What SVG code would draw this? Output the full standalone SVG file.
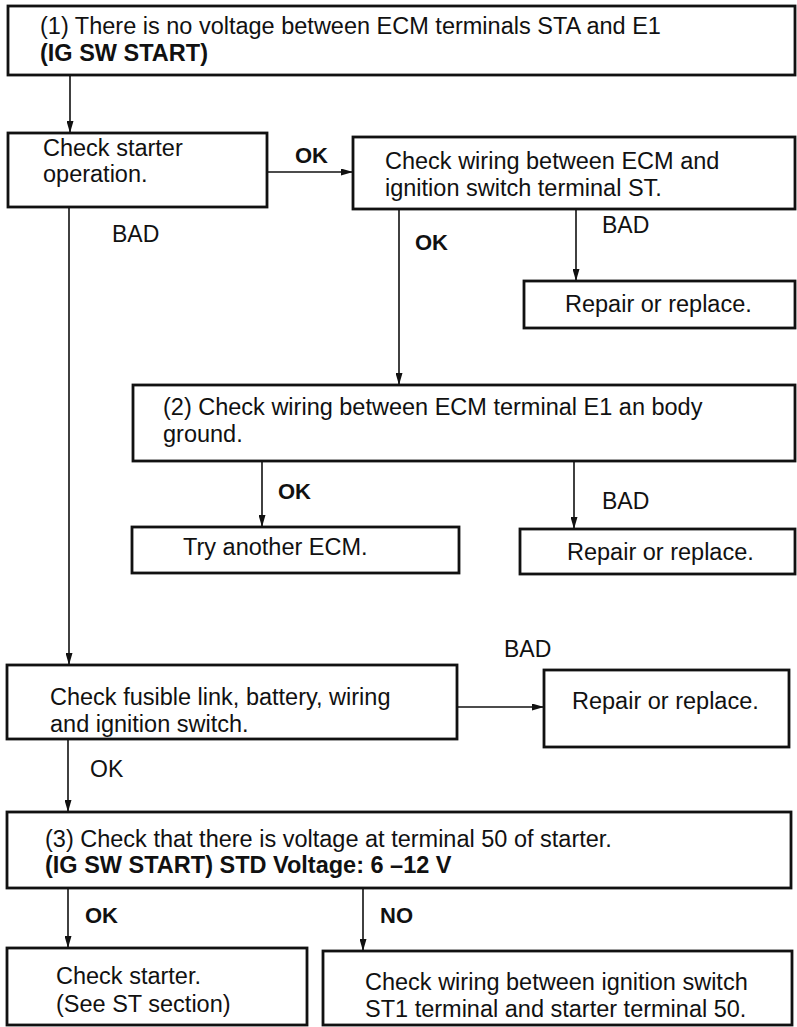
<svg xmlns="http://www.w3.org/2000/svg" width="797" height="1027" viewBox="0 0 797 1027">
<style>
  .box { fill: #ffffff; stroke: #111111; stroke-width: 2.8; }
  .t { font-family: "Liberation Sans", Arial, sans-serif; font-size: 23.5px; fill: #111111; }
  .b { font-weight: bold; }
  .lbl { font-family: "Liberation Sans", Arial, sans-serif; font-size: 23px; fill: #111111; }
  .lblb { font-family: "Liberation Sans", Arial, sans-serif; font-size: 22px; font-weight: bold; fill: #111111; }
  .conn { stroke: #111111; stroke-width: 1.6; fill: none; marker-end: url(#arrow); }
</style>
<defs>
  <marker id="arrow" viewBox="0 0 12 7" refX="12" refY="3.5" markerWidth="12" markerHeight="7" markerUnits="userSpaceOnUse" orient="auto">
    <path d="M0,0 L12,3.5 L0,7 z" fill="#111111"/>
  </marker>
</defs>
<rect width="797" height="1027" fill="#ffffff"/>

<g id="connectors">
  <line class="conn" x1="70" y1="75" x2="70" y2="133"/>
  <line class="conn" x1="267" y1="172" x2="353" y2="172"/>
  <line class="conn" x1="69" y1="207" x2="69" y2="665"/>
  <line class="conn" x1="399" y1="209" x2="399" y2="385"/>
  <line class="conn" x1="576" y1="209" x2="576" y2="281"/>
  <line class="conn" x1="262" y1="461" x2="262" y2="527"/>
  <line class="conn" x1="574" y1="462" x2="574" y2="529"/>
  <line class="conn" x1="457" y1="707" x2="544" y2="707"/>
  <line class="conn" x1="68" y1="739" x2="68" y2="812"/>
  <line class="conn" x1="68" y1="888" x2="68" y2="948"/>
  <line class="conn" x1="363" y1="888" x2="363" y2="951"/>
  <text class="lblb" x="295" y="163">OK</text>
  <text class="lbl" x="112" y="242">BAD</text>
  <text class="lblb" x="415" y="250">OK</text>
  <text class="lbl" x="602" y="233">BAD</text>
  <text class="lblb" x="278" y="499">OK</text>
  <text class="lbl" x="602" y="509">BAD</text>
  <text class="lbl" x="504" y="657">BAD</text>
  <text class="lbl" x="90" y="777">OK</text>
  <text class="lblb" x="85" y="923">OK</text>
  <text class="lblb" x="380" y="923">NO</text>
</g>

<g id="n1">
  <rect class="box" x="8" y="6" width="787" height="69"/>
  <text class="t" x="40" y="34">(1) There is no voltage between ECM terminals STA and E1</text>
  <text class="t b" x="40" y="61">(IG SW START)</text>
</g>

<g id="n2">
  <rect class="box" x="8" y="133" width="259" height="74"/>
  <text class="t" x="43" y="156">Check starter</text>
  <text class="t" x="43" y="182">operation.</text>
</g>

<g id="n3">
  <rect class="box" x="353" y="137" width="442" height="72"/>
  <text class="t" x="385" y="169">Check wiring between ECM and</text>
  <text class="t" x="385" y="196">ignition switch terminal ST.</text>
</g>

<g id="n4">
  <rect class="box" x="524" y="281" width="271" height="47"/>
  <text class="t" x="565" y="312">Repair or replace.</text>
</g>

<g id="n5">
  <rect class="box" x="133" y="385" width="662" height="76"/>
  <text class="t" x="163" y="415">(2) Check wiring between ECM terminal E1 an body</text>
  <text class="t" x="163" y="442">ground.</text>
</g>

<g id="n6">
  <rect class="box" x="132" y="527" width="327" height="46"/>
  <text class="t" x="183" y="555">Try another ECM.</text>
</g>

<g id="n7">
  <rect class="box" x="520" y="529" width="275" height="45"/>
  <text class="t" x="567" y="560">Repair or replace.</text>
</g>

<g id="n8">
  <rect class="box" x="7" y="665" width="450" height="74"/>
  <text class="t" x="50" y="705">Check fusible link, battery, wiring</text>
  <text class="t" x="50" y="732">and ignition switch.</text>
</g>

<g id="n9">
  <rect class="box" x="544" y="670" width="245" height="77"/>
  <text class="t" x="572" y="709">Repair or replace.</text>
</g>

<g id="n10">
  <rect class="box" x="7" y="812" width="784" height="76"/>
  <text class="t" x="45" y="847">(3) Check that there is voltage at terminal 50 of starter.</text>
  <text class="t b" x="45" y="873">(IG SW START) STD Voltage: 6 –12 V</text>
</g>

<g id="n11">
  <rect class="box" x="7" y="948" width="300" height="77"/>
  <text class="t" x="56" y="984">Check starter.</text>
  <text class="t" x="56" y="1012">(See ST section)</text>
</g>

<g id="n12">
  <rect class="box" x="323" y="951" width="469" height="74"/>
  <text class="t" x="365" y="990">Check wiring between ignition switch</text>
  <text class="t" x="365" y="1017">ST1 terminal and starter terminal 50.</text>
</g>
</svg>
